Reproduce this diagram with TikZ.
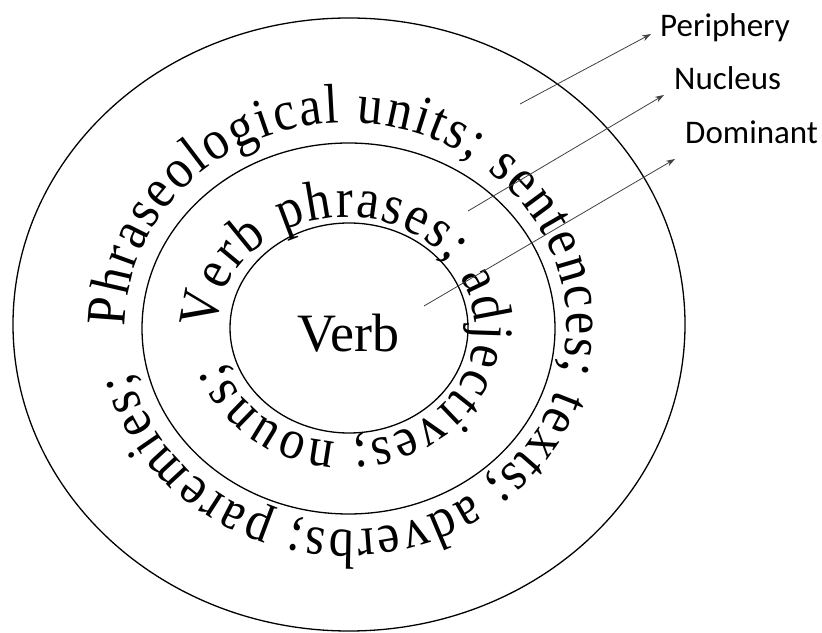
\documentclass[tikz,border=0pt]{standalone}
\usepackage{fontspec}
\setmainfont{Liberation Serif}
\newfontfamily\labelfont{Carlito}
\newfontfamily\ringfam[FakeStretch=0.9]{Liberation Serif}
\usetikzlibrary{decorations.text, arrows.meta}
\newcommand\ringfont{\ringfam\fontsize{56}{62}\selectfont}
\tikzset{
  ring/.style={draw=black, line width=1.3pt},
  pointer/.style={draw=black!75, line width=0.8pt, -{Stealth[length=9pt,width=6pt]}},
  lbl/.style={font=\labelfont\fontsize{33}{38}\selectfont, anchor=base west, inner sep=0pt},
}
\begin{document}
\begin{tikzpicture}[x=1pt, y=1pt]
\useasboundingbox (0,0) rectangle (822,632);
% rings
\draw[ring] (349,307.5) ellipse [x radius=336, y radius=306.5];
\draw[ring] (348.5,303.5) ellipse [x radius=206.5, y radius=185.5];
\draw[ring] (349,304) ellipse [x radius=119, y radius=105];
% curved texts
\path[decorate, decoration={text along path,
  text={|\ringfont|Phraseological units; sentences; texts; adverbs; paremies;},
  text align={fit to path}}]
  (125,305.5) arc[start angle=180, end angle=-167, x radius=221, y radius=203.5];
\path[decorate, decoration={text along path,
  text={|\ringfont|Verb phrases; adjectives; nouns;},
  text align={fit to path}}]
  (217,302.5) arc[start angle=180, end angle=-163, x radius=129, y radius=112.5];
% centre
\node[font=\fontsize{54}{60}\selectfont, anchor=base, inner sep=0pt] (verb) at (348.5,280) {Verb};
% labels
\node[lbl] (periphery) at (660,595) {Periphery};
\node[lbl] (nucleus) at (674,542) {Nucleus};
\node[lbl] (dominant) at (685,488) {Dominant};
% pointers
\coordinate (pS) at (520,528);
\coordinate (pE) at (651,598);
\coordinate (nS) at (468,421);
\coordinate (nE) at (664,537);
\coordinate (dS) at (424,326);
\coordinate (dE) at (675,473);
\draw[pointer] (pS) -- (pE);
\draw[pointer] (nS) -- (nE);
\draw[pointer] (dS) -- (dE);
\end{tikzpicture}
\end{document}
